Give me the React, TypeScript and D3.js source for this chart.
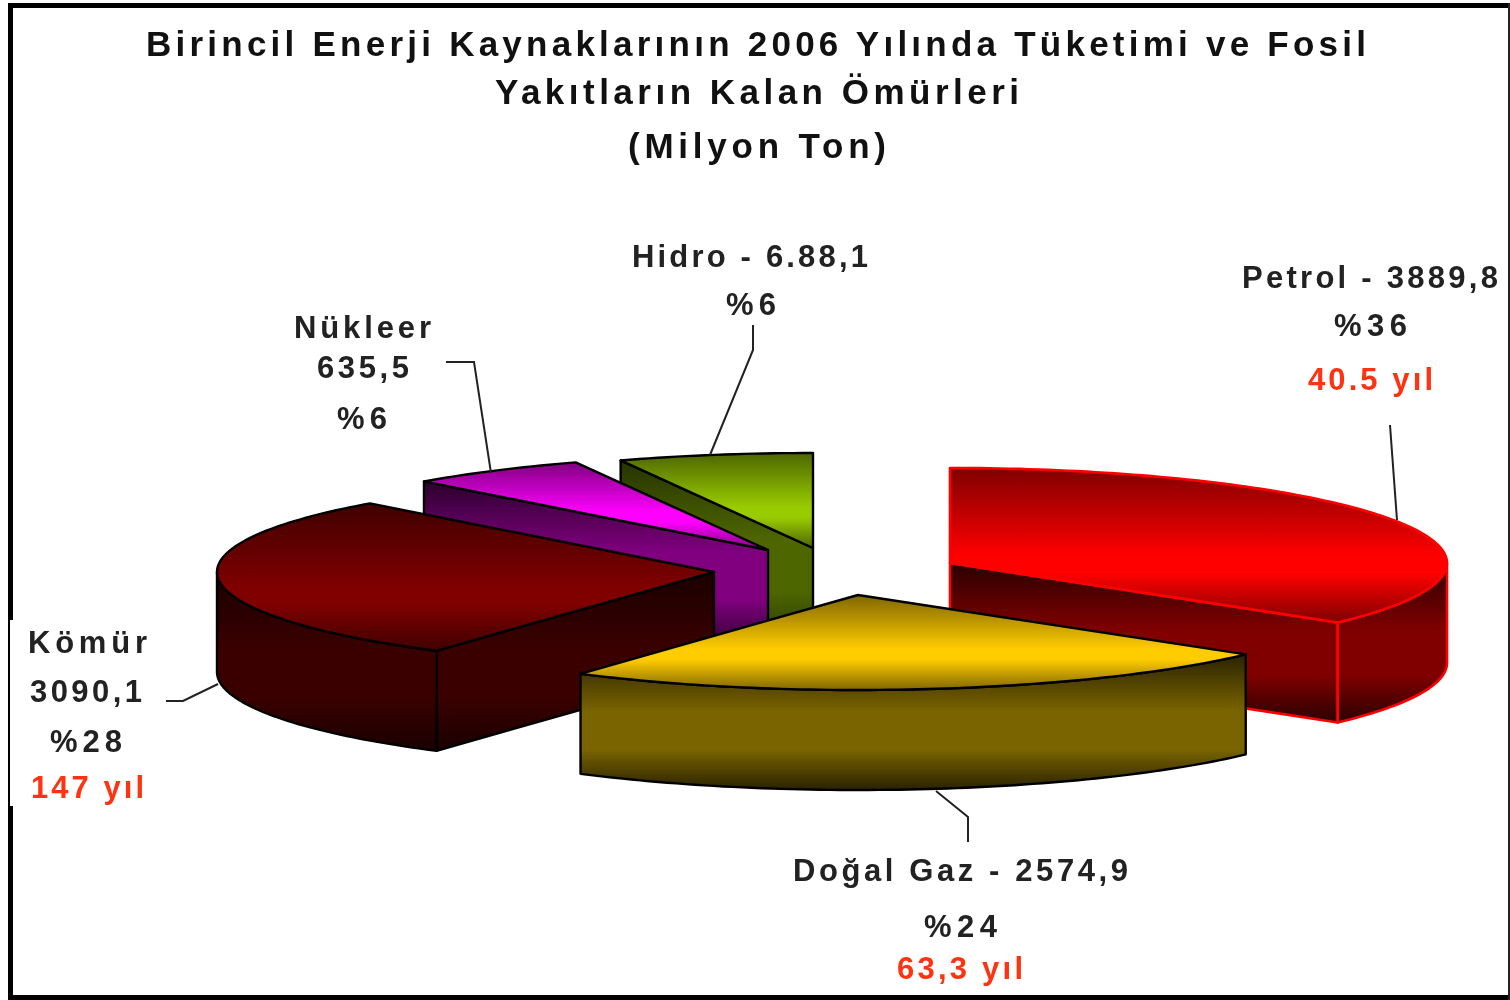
import React from "react";
import * as d3 from "d3";

// ---- data ----
const categories = ["Petrol", "Doğal Gaz", "Kömür", "Nükleer", "Hidro"];
const values = [3889.8, 2574.9, 3090.1, 635.5, 688.1];
const baseColors = ["#ff0000", "#ffcc00", "#800000", "#ff00ff", "#99cc00"];
const topEdgeColors = ["#800000", "#806600", "#400000", "#800080", "#4d6600"];
const sideColors = ["#800000", "#7a6400", "#3a0000", "#800080", "#4d6600"];
const sideEdgeColors = ["#2a0000", "#2a2200", "#1a0000", "#2b002b", "#263300"];
const strokeColors = ["#ff0000", "#000000", "#000000", "#000000", "#000000"];

const titleLines = [
  "Birincil Enerji Kaynaklarının 2006 Yılında Tüketimi ve Fosil",
  "Yakıtların Kalan Ömürleri",
  "(Milyon Ton)",
];
const labelLines = [
  "Hidro - 6.88,1", "%6",
  "Petrol - 3889,8", "%36", "40.5 yıl",
  "Nükleer", "635,5", "%6",
  "Kömür", "3090,1", "%28", "147 yıl",
  "Doğal Gaz - 2574,9", "%24", "63,3 yıl",
];

// ---- layout ----
const W = 1510, H = 1000;
const RX = 497, RY = 95, DEPTH = 100;
const apexes: [number, number][] = [[950, 563], [858, 595], [714, 572], [768, 550], [813, 548]];
const drawOrder = [0, 4, 3, 2, 1];
// [x0, x1, baseline] per line
const titleBoxes = [[146, 1366, 56], [495, 1019, 104], [628, 886, 158]];
const labelBoxes = [
  [632, 868, 267], [726, 776, 315],
  [1242, 1498, 288], [1334, 1407, 336], [1308, 1433, 390],
  [294, 431, 338], [317, 409, 378], [337, 387, 429],
  [28, 147, 653], [30, 142, 702], [50, 122, 752], [31, 144, 798],
  [793, 1128, 881], [924, 997, 937], [897, 1023, 979],
];
const redLines = new Set(["40.5 yıl", "147 yıl", "63,3 yıl"]);
const leaders: [number, number][][] = [
  [[753, 325], [753, 350], [710, 455]],
  [[446, 362], [474, 362], [491, 473]],
  [[1390, 425], [1397, 520]],
  [[166, 701], [183, 701], [218, 684]],
  [[968, 842], [968, 817], [936, 791]],
];

const FONT = "'Liberation Sans', Arial, sans-serif";
const lineGen = d3.line<[number, number]>().x((d) => d[0]).y((d) => d[1]);
const leaderGen = d3.line<[number, number]>();

const pieAngles = d3.pie<number>().sort(null).startAngle(0).endAngle(2 * Math.PI)(values);

function project(i: number, t: number, dz = 0): [number, number] {
  const [cx, cy] = apexes[i];
  return [cx + RX * Math.sin(t), cy - RY * Math.cos(t) + dz];
}

function arcPoints(i: number, a: number, b: number, dz = 0): [number, number][] {
  const n = Math.max(2, Math.ceil((b - a) / 0.02));
  return d3.range(n + 1).map((k) => project(i, a + ((b - a) * k) / n, dz));
}

function closed(points: [number, number][]) {
  return lineGen(points) + "Z";
}

function Slice({ i }: { i: number }) {
  const { startAngle: a, endAngle: b } = pieAngles[i];
  const apex = apexes[i];
  const apexLow: [number, number] = [apex[0], apex[1] + DEPTH];
  const stroke = strokeColors[i];
  const sw = i === 0 ? 2.6 : 2.4;

  const topPts: [number, number][] = [apex, ...arcPoints(i, a, b)];
  const faces: string[] = [];
  let sidePts: [number, number][] = [];
  const addFace = (pts: [number, number][]) => {
    faces.push(closed(pts));
    sidePts = sidePts.concat(pts);
  };
  if (Math.sin(a) < -1e-6) {
    addFace([apex, project(i, a), project(i, a, DEPTH), apexLow]);
  }
  if (Math.sin(b) > 1e-6) {
    addFace([apex, project(i, b), project(i, b, DEPTH), apexLow]);
  }
  const w0 = Math.max(a, Math.PI / 2);
  const w1 = Math.min(b, (3 * Math.PI) / 2);
  if (w1 > w0) {
    addFace([...arcPoints(i, w0, w1), ...arcPoints(i, w0, w1, DEPTH).reverse()]);
  }
  const [y0, y1] = d3.extent(sidePts, (d) => d[1]) as [number, number];
  const [ty0, ty1] = d3.extent(topPts, (d) => d[1]) as [number, number];

  return (
    <g>
      <defs>
        <linearGradient id={`top${i}`} gradientUnits="userSpaceOnUse" x1="0" x2="0" y1={ty0} y2={ty1}>
          <stop offset={0} stopColor={topEdgeColors[i]} />
          <stop offset={0.57} stopColor={baseColors[i]} />
          <stop offset={0.68} stopColor={baseColors[i]} />
          <stop offset={1} stopColor={topEdgeColors[i]} />
        </linearGradient>
        <linearGradient id={`side${i}`} gradientUnits="userSpaceOnUse" x1="0" x2="0" y1={y0} y2={y1}>
          <stop offset={0} stopColor={sideEdgeColors[i]} />
          <stop offset={0.42} stopColor={sideColors[i]} />
          <stop offset={0.7} stopColor={sideColors[i]} />
          <stop offset={1} stopColor={sideEdgeColors[i]} />
        </linearGradient>
      </defs>
      {faces.map((d, k) => (
        <path key={k} d={d} fill={`url(#side${i})`} stroke={stroke} strokeWidth={sw} strokeLinejoin="round" />
      ))}
      <path d={closed(topPts)} fill={`url(#top${i})`} stroke={stroke} strokeWidth={sw} strokeLinejoin="round" />
    </g>
  );
}

function Line({ text, box, fill, size }: { text: string; box: number[]; fill: string; size: number }) {
  return (
    <text
      x={box[0]}
      y={box[2]}
      textLength={box[1] - box[0]}
      lengthAdjust="spacing"
      fontFamily={FONT}
      fontWeight="bold"
      fontSize={size}
      fill={fill}
    >
      {text}
    </text>
  );
}

export default function App() {
  return (
    <svg
      width={W}
      height={H}
      viewBox={`0 0 ${W} ${H}`}
      style={{ position: "fixed", left: 0, top: 0, background: "#fff" }}
      aria-label={categories.join(", ")}
    >
      <defs>
        <filter id="soft" filterUnits="userSpaceOnUse" x="0" y="0" width={W} height={H} colorInterpolationFilters="sRGB">
          <feGaussianBlur stdDeviation="0.75" />
        </filter>
      </defs>
      <g filter="url(#soft)">
        <rect x={0} y={0} width={W} height={H} fill="#fff" />
        {/* frame */}
        <rect x={8} y={3} width={W} height={5} fill="#000" />
        <rect x={8} y={3} width={5} height={H} fill="#000" />
        <rect x={8} y={995} width={W} height={5} fill="#000" />
        <rect x={1508} y={3} width={2} height={H} fill="#222" />
        <rect x={10} y={620} width={40} height={186} fill="#fff" />

        {drawOrder.map((i) => (
          <Slice key={i} i={i} />
        ))}

        {leaders.map((pts, k) => (
          <path key={k} d={leaderGen(pts) as string} fill="none" stroke="#222" strokeWidth={2} />
        ))}

        {titleLines.map((t, k) => (
          <Line key={k} text={t} box={titleBoxes[k]} fill="#111" size={35} />
        ))}
        {labelLines.map((t, k) => (
          <Line key={k} text={t} box={labelBoxes[k]} fill={redLines.has(t) ? "#ff3311" : "#222"} size={31} />
        ))}
      </g>
    </svg>
  );
}
